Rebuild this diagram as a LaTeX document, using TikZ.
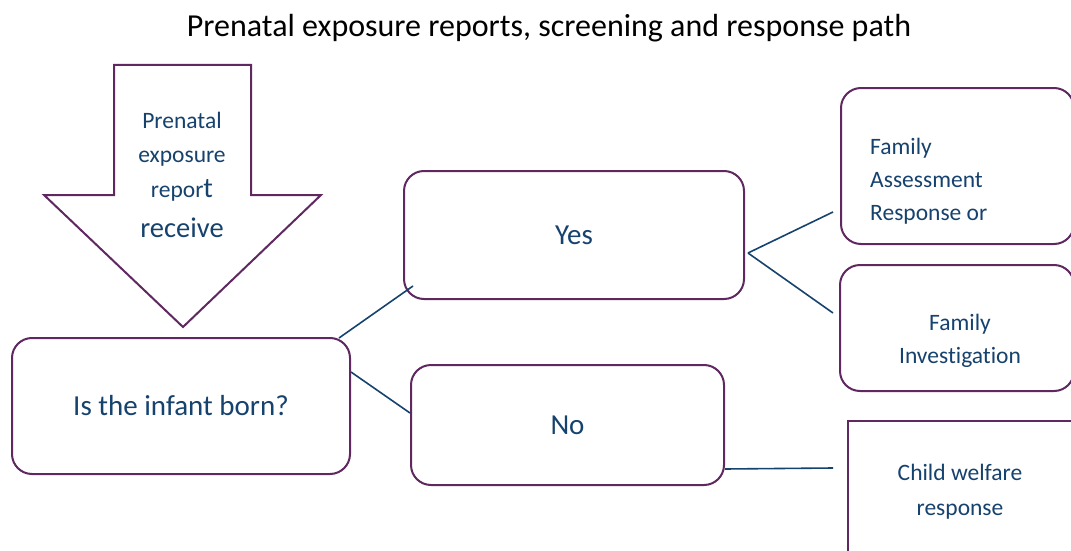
\documentclass[tikz,border=0pt]{standalone}
\usepackage{fontspec}
\setmainfont{Carlito}[Ligatures=NoCommon]
\usetikzlibrary{calc}
\definecolor{bord}{RGB}{96,40,96}
\definecolor{txt}{RGB}{22,66,110}
\begin{document}
\begin{tikzpicture}[x=1pt,y=-1pt,
  box/.style={draw=bord, line width=2pt, rounded corners=20pt, fill=white, inner sep=0pt, anchor=north west, text=txt},
  sqbox/.style={draw=bord, line width=2pt, fill=white, inner sep=0pt, anchor=north west},
  conn/.style={draw=txt, line width=1.6pt},
  big/.style={font=\fontsize{29}{35}\selectfont},
  small/.style={font=\fontsize{23.5}{33}\selectfont, text=txt, align=center, inner sep=0pt},
]
\useasboundingbox (0,0) rectangle (1071,551);
\clip (0,0) rectangle (1071,551);

\node[font=\fontsize{32}{37}\selectfont, text=black] (title) at (549,28) {Prenatal exposure reports, screening and response path};

% arrow
\draw[draw=bord, line width=2pt, fill=white] (114,65) -- (251,65) -- (251,195) -- (321,195) -- (183,327) -- (44,195) -- (114,195) -- cycle;
\node[small, font=\fontsize{23.5}{34.5}\selectfont] (report) at (182,175) {Prenatal\\exposure\\repor{\fontsize{28.5}{34}\selectfont t}\\[6pt]{\fontsize{28.5}{34}\selectfont receive}};

\node[box, big, minimum width=338pt, minimum height=136pt] (infant) at (11,337) {Is the infant born?};
\node[box, big, minimum width=340pt, minimum height=128pt] (yes) at (403,170) {Yes};
\node[box, big, minimum width=313pt, minimum height=120pt] (no) at (410,364) {No};

\node[box, minimum width=233pt, minimum height=156pt] (fa) at (840,87) {};
\node[box, minimum width=234pt, minimum height=126pt] (fi) at (839,264) {};
\node[sqbox, minimum width=240pt, minimum height=160pt] (cw) at (847,420) {};

\node[small, align=left, anchor=west] (fatext) at (870,181) {Family\\Assessment\\Response or};
\node[small] (fitext) at (960,341) {Family\\Investigation};
\node[small, font=\fontsize{23.5}{35}\selectfont] (cwtext) at (960,492) {Child welfare\\response};

\draw[conn] ([shift={(-12,1)}]infant.north east) -- ([shift={(10,-14)}]yes.south west);
\draw[conn] ([shift={(0,-34)}]infant.east) -- ([shift={(0,-12)}]no.west);
\draw[conn] ([shift={(3,18)}]yes.east) -- ([shift={(-7,46)}]fa.west);
\draw[conn] ([shift={(3,18)}]yes.east) -- ([shift={(-6,-15)}]fi.west);
\draw[conn] ([shift={(0,44)}]no.east) -- ([shift={(-14,48)}]cw.north west);
\end{tikzpicture}
\end{document}
